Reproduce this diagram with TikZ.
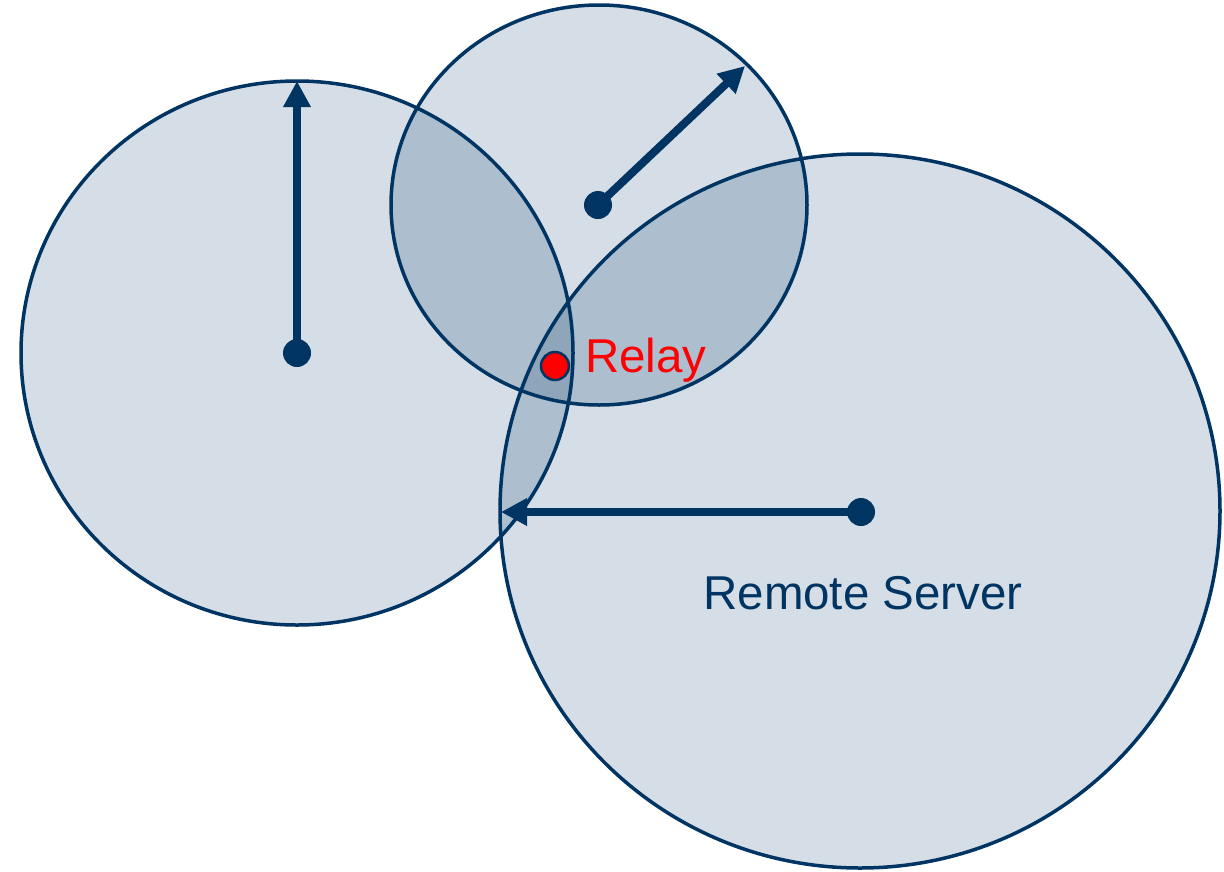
\documentclass[tikz,border=0pt]{standalone}
\usepackage{fontspec}
\setmainfont{Liberation Sans}
\usetikzlibrary{arrows.meta}
\definecolor{navy}{HTML}{003462}
\definecolor{zoneA}{HTML}{D5DEE6}
\definecolor{zoneB}{HTML}{ADBECE}
\definecolor{zoneC}{HTML}{8EA5BA}
\definecolor{relayred}{HTML}{FF0000}
\tikzset{
  rim/.style={draw=navy, line width=3.5pt},
  hub/.style={circle, fill=navy, inner sep=0pt, minimum size=28pt},
  reach/.style={draw=navy, line width=8pt, -{Triangle[length=26pt,width=26pt]}},
  lbl/.style={font=\fontsize{47.5}{56}\selectfont, inner sep=0pt}
}
% coverage discs
\def\discL{(297,353) ellipse [x radius=276pt, y radius=272pt]}
\def\discT{(599,205) ellipse [x radius=208pt, y radius=200pt]}
\def\discR{(860,511) ellipse [x radius=360pt, y radius=357pt]}
\begin{document}
\begin{tikzpicture}[x=1pt,y=-1pt]
\useasboundingbox (0,0) rectangle (1224,871);
% single coverage
\fill[zoneA] \discL;
\fill[zoneA] \discT;
\fill[zoneA] \discR;
% double coverage
\begin{scope}\clip \discL; \fill[zoneB] \discT; \end{scope}
\begin{scope}\clip \discL; \fill[zoneB] \discR; \end{scope}
\begin{scope}\clip \discT; \fill[zoneB] \discR; \end{scope}
% triple coverage
\begin{scope}\clip \discL; \clip \discT; \fill[zoneC] \discR; \end{scope}
% outlines
\draw[rim] \discL;
\draw[rim] \discT;
\draw[rim] \discR;
% centres and ranges
\node[hub] (hl) at (297,353) {};
\node[hub] (ht) at (598,205) {};
\node[hub] (hr) at (861,512) {};
\coordinate (el) at (297,81);
\coordinate (et) at (745,66);
\coordinate (er) at (501,512);
\draw[reach] (hl.center) -- (el);
\draw[reach] (ht.center) -- (et);
\draw[reach] (hr.center) -- (er);
% relay
\node[circle, fill=relayred, draw=navy, line width=2.5pt, inner sep=0pt, minimum size=28pt] (relay) at (555,366) {};
\node[lbl, text=relayred, anchor=base west] (relaytxt) at (585,372) {Relay};
\node[lbl, text=navy, anchor=base] (srv) at (863,609) {Remote Server};
\end{tikzpicture}
\end{document}
